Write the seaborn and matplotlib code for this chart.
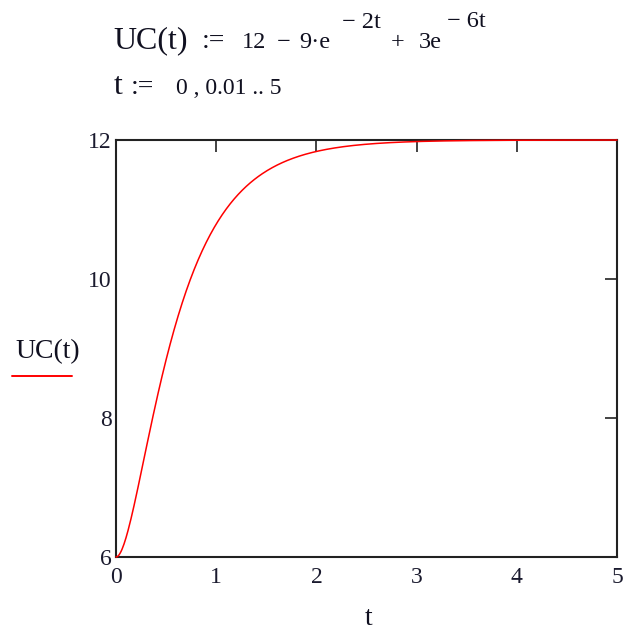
import numpy as np
import pandas as pd
import matplotlib
matplotlib.use("Agg")
import matplotlib.pyplot as plt
import seaborn as sns

# UC(t) := 12 - 9*e^(-2t) + 3*e^(-6t), t := 0, 0.01 .. 5
uc_const = 12.0
coef_a, rate_a = 9.0, 2.0
coef_b, rate_b = 3.0, 6.0
t_start, t_step, t_stop = 0.0, 0.01, 5.0

x_ticks = [0, 1, 2, 3, 4, 5]
y_ticks = [6, 8, 10, 12]

t = np.arange(t_start, t_stop + t_step / 2, t_step)
uc = uc_const - coef_a * np.exp(-rate_a * t) + coef_b * np.exp(-rate_b * t)
df = pd.DataFrame({"t": t, "UC": uc})

sns.set_style("white")
plt.rcParams["font.family"] = ["Liberation Serif", "DejaVu Serif"]

W, H = 625, 630
fig = plt.figure(figsize=(W / 100, H / 100), dpi=100)
ax = fig.add_axes([116 / W, 1 - 557 / H, (617 - 116) / W, (557 - 140) / H])

sns.lineplot(data=df, x="t", y="UC", ax=ax, color="#ff0000", linewidth=1.1,
             clip_on=False, zorder=5)

ax.set_xlim(0, 5)
ax.set_ylim(6, 12)
ax.set_xticks(x_ticks)
ax.set_yticks(y_ticks)
ax.set_xticklabels([str(v) for v in x_ticks], fontsize=17)
ax.set_yticklabels([str(v) for v in y_ticks], fontsize=17)
ax.tick_params(direction="in", length=8.5, width=1.2, color="#222222",
               top=True, right=True, labelcolor="#1a1a2e")
ax.tick_params(axis="x", pad=7)
ax.tick_params(axis="y", pad=3)
ax.set_xlabel("")
ax.set_ylabel("")
for s in ax.spines.values():
    s.set_linewidth(1.5)
    s.set_color("#222222")
    s.set_visible(True)

def px(x, y):
    return x / W, 1 - y / H

txt = "#101020"
# first definition line
fig.text(*px(113, 48), "UC(t)", fontsize=23, color=txt, va="baseline")
fig.text(*px(202, 48), ":=", fontsize=20, color=txt, va="baseline")
fig.text(*px(242, 48), "12", fontsize=17.5, color=txt, va="baseline")
fig.text(*px(277, 48), "\u2212", fontsize=17.5, color=txt, va="baseline")
fig.text(*px(299, 48), "9\u00b7e", fontsize=17.5, color=txt, va="baseline")
fig.text(*px(342, 28), "\u2212 2t", fontsize=17.5, color=txt, va="baseline")
fig.text(*px(391, 48), "+", fontsize=17.5, color=txt, va="baseline")
fig.text(*px(419, 48), "3e", fontsize=17.5, color=txt, va="baseline")
fig.text(*px(447, 27), "\u2212 6t", fontsize=17.5, color=txt, va="baseline")
# range line
fig.text(*px(114, 94), "t", fontsize=23, color=txt, va="baseline")
fig.text(*px(131, 94), ":=", fontsize=20, color=txt, va="baseline")
fig.text(*px(176, 94), "0 , 0.01 .. 5", fontsize=17, color=txt, va="baseline")

# axis labels
fig.text(*px(15, 358), "UC(t)", fontsize=20, color=txt, va="baseline")
fig.add_artist(plt.Line2D([12 / W, 72 / W], [1 - 376 / H, 1 - 376 / H],
                          color="#ff0000", linewidth=1.4))
fig.text(*px(369, 625), "t", fontsize=20, color=txt, va="baseline", ha="center")

fig.savefig("out.png", dpi=100)
